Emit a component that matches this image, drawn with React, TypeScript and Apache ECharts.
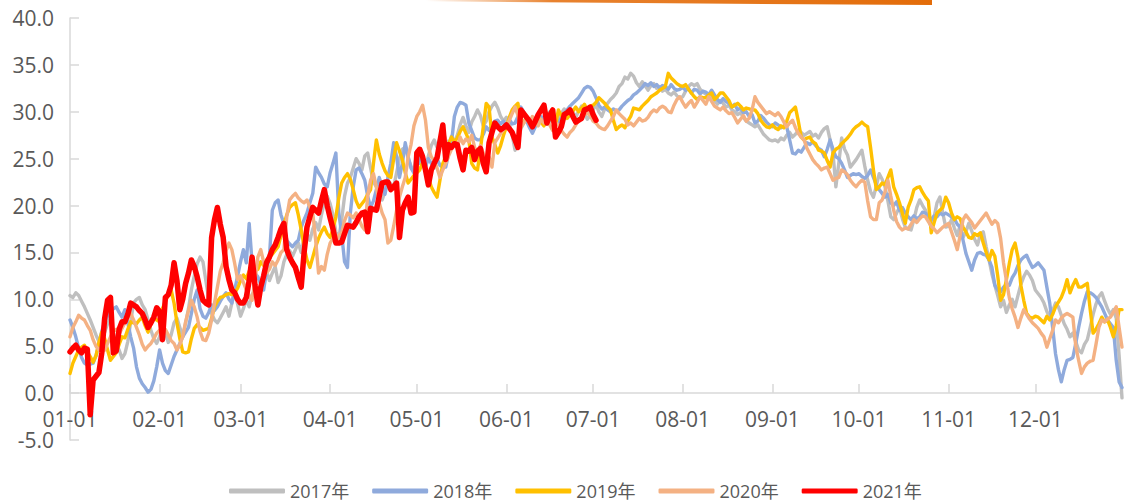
import React, { useEffect, useRef } from "react";
import * as echarts from "echarts";

// ---- categories (month-day) ----
const MONTH_DAYS = [31, 28, 31, 30, 31, 30, 31, 31, 30, 31, 30, 31];
const dayLabels: string[] = [];
MONTH_DAYS.forEach((n, m) => {
  for (let d = 1; d <= n; d++) {
    dayLabels.push(`${String(m + 1).padStart(2, "0")}-${String(d).padStart(2, "0")}`);
  }
});

const seriesNames = ["2017年", "2018年", "2019年", "2020年", "2021年"];
const seriesColors = ["#BFBFBF", "#8FAADC", "#FFC000", "#F4B183", "#FF0000"];
const seriesWidths = [3.4, 3.4, 3.4, 3.4, 5.5];
const yTicks = { min: -5, max: 40, step: 5 };

// ---- daily values ----
const t2017 = [
  // Jan
  10.4, 10.2, 10.7, 10.4, 9.8, 9.2, 8.5, 7.8, 7.0, 6.2, 5.5, 5.8, 6.5, 7.4, 8.0, 6.5, 5.2, 4.6, 3.7, 4.2, 5.5, 7.6, 9.6, 10.0, 10.2, 9.4, 8.9, 7.8, 6.7, 5.8, 5.3,
  // Feb
  6.0, 7.2, 6.5, 5.4, 6.2, 7.5, 8.0, 7.0, 6.0, 7.5, 9.0, 11.0, 12.5, 13.8, 14.5, 14.0, 12.0, 10.0, 8.5, 7.8, 7.5, 8.0, 8.6, 9.2, 8.2, 9.6, 10.7, 9.5,
  // Mar
  8.2, 9.0, 10.0, 9.2, 10.5, 11.0, 10.2, 11.3, 12.5, 13.0, 12.0, 12.8, 13.5, 11.8, 12.5, 14.0, 14.8, 15.2, 14.6, 15.3, 16.0, 15.0, 16.5, 17.0, 16.3, 17.5, 18.2, 17.4, 19.0, 20.3, 21.0,
  // Apr
  20.2, 19.0, 17.2, 16.5, 18.5, 21.0, 22.4, 23.0, 24.0, 25.0, 24.5, 23.8, 25.3, 25.6, 24.0, 22.5, 22.0, 21.2, 20.6, 21.5, 22.7, 22.3, 22.0, 23.5, 25.0, 26.0, 26.2, 25.0, 24.2, 23.5,
  // May
  24.5, 26.0, 25.5, 24.0, 25.3, 26.4, 27.0, 26.2, 27.2, 28.0, 27.0, 26.5, 27.4, 26.8, 27.5, 28.6, 29.4, 28.5, 27.8, 28.9, 29.5, 30.2, 29.6, 28.5, 29.0, 30.0, 30.6, 31.0, 30.4, 29.5, 29.0,
  // Jun
  29.4, 28.7, 27.5, 25.9, 26.5, 28.2, 28.8, 29.5, 29.0, 28.4, 29.2, 28.6, 29.4, 28.8, 29.6, 30.0, 29.2, 28.5, 29.1, 29.8, 30.3, 29.7, 30.4, 30.0, 29.4, 30.1, 30.6, 29.9, 29.2, 29.6,
  // Jul
  30.2, 30.8, 30.0, 29.5, 30.3, 30.9, 31.3, 31.6, 32.0, 32.7, 33.0, 33.7, 33.5, 34.1, 33.8, 33.1, 32.7, 33.2, 32.8, 32.3, 32.8, 33.0, 32.5, 32.7, 32.2, 32.4, 32.0, 31.8, 32.1, 31.7, 31.5,
  // Aug
  31.6, 32.2, 32.7, 33.0, 32.8, 33.0, 32.4, 32.1, 31.9, 31.5, 31.6, 31.2, 30.8, 31.2, 30.9, 30.5, 30.7, 30.2, 30.0, 29.7, 29.9, 29.4, 29.0, 28.8, 28.6, 28.4, 28.6, 28.1, 27.6, 27.3, 27.0,
  // Sep
  26.9, 27.0, 26.8, 27.2, 27.0, 27.5, 27.8, 27.3, 27.6, 28.0, 27.8, 27.5, 27.7, 27.9, 27.4, 27.6, 27.2, 27.8, 28.2, 28.4, 27.0, 25.6, 22.0, 24.5, 27.2, 26.0, 25.4, 24.1, 24.5, 24.9,
  // Oct
  25.4, 25.9, 24.2, 22.7, 21.5, 20.9, 22.1, 23.4, 22.8, 22.0, 20.5, 18.8, 18.5, 19.2, 19.8, 18.6, 17.7, 17.5, 17.4, 18.5, 19.8, 20.6, 20.0, 19.5, 18.5, 17.7, 18.8, 20.3, 20.9, 19.2, 17.7,
  // Nov
  17.8, 18.5, 17.6, 16.8, 17.9, 16.6, 17.2, 18.1, 17.3, 16.4, 15.8, 16.9, 17.2, 15.6, 14.2, 12.7, 11.5, 10.4, 9.2, 9.9, 8.6, 9.4, 10.0, 9.2, 10.4, 11.6, 12.4, 13.0, 12.6, 12.0,
  // Dec
  11.0, 10.6, 10.2, 9.6, 8.7, 8.1, 8.8, 9.6, 9.2, 8.3, 7.4, 6.8, 6.0, 6.4, 5.5, 4.6, 4.3, 5.2, 5.7, 7.0, 8.4, 9.5, 10.3, 10.7, 9.8, 9.0, 8.4, 8.9, 8.0, 4.0, -0.5,
];

const t2018 = [
  // Jan
  7.8, 7.0, 6.0, 4.8, 3.8, 3.2, 3.0, 3.1, 3.2, 4.0, 5.2, 6.6, 7.6, 8.2, 8.8, 9.0, 9.2, 8.6, 8.1, 8.9, 7.5, 6.0, 4.8, 2.8, 1.6, 1.0, 0.6, 0.1, 0.4, 1.3, 2.8,
  // Feb
  4.6, 3.2, 2.4, 2.1, 3.0, 3.9, 4.6, 5.3, 6.0, 6.5, 7.0, 8.5, 10.0, 11.0, 9.0, 8.2, 8.0, 8.6, 9.4, 8.8, 9.2, 9.8, 10.3, 10.7, 10.0, 9.6, 11.0, 12.5,
  // Mar
  14.0, 15.3, 13.9, 18.1, 13.9, 12.8, 12.4, 11.6, 11.0, 13.0, 14.5, 19.5, 20.3, 20.6, 19.0, 18.1, 16.3, 15.9, 15.6, 16.0, 16.3, 17.7, 18.5, 19.2, 20.3, 21.3, 24.1, 23.5, 23.0, 22.3, 22.0,
  // Apr
  23.5, 24.5, 25.6, 19.2, 17.0, 14.0, 13.4, 19.2, 22.0, 23.8, 24.0, 23.4, 22.7, 21.0, 19.8, 20.5, 21.7, 23.0, 22.0, 21.2, 23.0, 24.5, 26.7, 25.2, 23.0, 24.5, 26.7, 25.2, 24.0, 23.5,
  // May
  25.8, 24.5, 25.0, 24.2, 25.0, 24.5, 24.0, 25.0, 24.3, 24.1, 24.1, 25.5, 26.7, 29.5, 30.5, 31.0, 30.9, 30.7, 28.8, 28.0, 27.2, 27.0, 27.0, 27.6, 28.4, 28.0, 28.6, 29.0, 29.1, 28.7, 29.0,
  // Jun
  28.5, 29.2, 28.7, 28.8, 29.5, 30.5, 30.0, 29.0, 28.3, 27.7, 28.4, 29.0, 29.5, 29.2, 28.7, 29.0, 29.4, 29.1, 28.9, 29.3, 29.8, 30.2, 30.6, 30.9, 31.2, 31.5, 32.0, 32.5, 32.7, 32.6,
  // Jul
  32.2, 31.5, 30.7, 30.3, 30.5, 30.2, 30.0, 30.3, 30.1, 30.2, 30.6, 30.9, 31.2, 31.4, 31.8, 32.0, 32.3, 32.6, 33.0, 32.8, 33.1, 32.7, 32.9, 32.5, 32.8, 32.7, 32.4, 32.9, 32.5, 32.3, 32.4,
  // Aug
  32.6, 32.3, 32.5, 32.0, 32.4, 32.3, 31.9, 32.2, 32.1, 31.8, 32.3, 31.8, 31.3, 31.0, 31.4, 31.1, 30.9, 30.5, 30.8, 30.2, 30.4, 29.9, 30.0, 29.5, 29.7, 28.8, 29.0, 29.6, 29.3, 28.9, 28.6,
  // Sep
  28.4, 28.8, 28.6, 28.3, 28.5, 28.4, 27.0, 25.6, 25.5, 25.9, 25.7, 26.2, 26.7, 26.5, 26.8, 26.4, 26.1, 25.9, 25.2, 26.0, 27.0, 26.0, 25.2, 25.0, 24.5, 23.8, 23.0, 23.2, 23.4, 23.3,
  // Oct
  23.4, 23.1, 22.9, 23.2, 23.8, 23.0, 22.2, 21.7, 21.3, 20.9, 21.2, 20.3, 20.0, 20.4, 19.5, 19.8, 19.2, 18.8, 18.5, 18.9, 18.6, 18.8, 19.3, 19.2, 18.7, 18.5, 18.9, 18.8, 19.2, 19.0, 19.2,
  // Nov
  19.0, 18.8, 18.6, 18.0, 17.7, 16.3, 14.9, 14.0, 13.1, 14.2, 14.9, 15.0, 14.8, 14.7, 14.2, 13.4, 11.5, 11.0, 10.8, 11.3, 11.6, 11.5, 12.3, 12.8, 13.6, 14.2, 14.5, 14.7, 14.0, 13.4,
  // Dec
  13.6, 13.9, 13.5, 13.1, 11.3, 9.6, 7.0, 4.2, 2.5, 1.2, 2.5, 3.5, 3.6, 3.8, 5.3, 7.0, 8.5, 9.8, 10.8, 10.7, 10.5, 10.2, 9.7, 9.2, 8.5, 7.8, 7.4, 7.0, 3.5, 1.2, 0.6,
];

const t2019 = [
  // Jan
  2.1, 3.2, 3.9, 4.6, 4.9, 5.1, 4.4, 3.9, 3.3, 4.0, 5.4, 6.5, 5.8, 4.6, 3.5, 3.9, 4.3, 5.2, 6.0, 5.9, 6.8, 7.6, 7.5, 7.4, 7.8, 8.1, 7.2, 6.5, 7.4, 8.1, 7.8,
  // Feb
  7.6, 9.0, 9.8, 10.4, 11.0, 9.6, 7.5, 5.8, 4.4, 4.3, 4.4, 5.8, 6.9, 7.3, 7.0, 6.7, 6.8, 6.9, 8.0, 9.2, 9.8, 10.2, 10.3, 10.5, 10.6, 10.5, 10.7, 11.2,
  // Mar
  12.0, 12.6, 12.2, 13.0, 12.7, 13.5, 13.2, 14.0, 13.6, 14.2, 14.5, 14.8, 15.2, 15.6, 16.8, 18.0, 19.0, 19.8, 20.1, 20.3, 19.0, 17.4, 15.6, 14.2, 13.4, 14.5, 15.6, 16.5, 17.2, 17.7, 17.0,
  // Apr
  16.6, 17.5, 18.8, 20.8, 22.4, 23.0, 23.4, 22.8, 21.7, 20.5, 19.8, 20.2, 20.6, 21.2, 21.7, 24.5, 27.0, 25.5, 24.5, 23.7, 23.2, 23.0, 25.0, 26.7, 25.8, 24.9, 23.5, 22.4, 22.8, 23.2,
  // May
  23.5, 23.8, 24.6, 24.1, 23.0, 22.0, 21.4, 20.9, 22.7, 24.5, 25.2, 26.6, 27.3, 26.8, 27.2, 27.9, 28.4, 27.7, 27.0, 24.5, 24.0, 23.8, 26.0, 28.4, 30.9, 30.5, 27.3, 26.5, 25.6, 26.4, 27.5,
  // Jun
  28.4, 29.4, 30.2, 30.6, 30.9, 28.4, 28.9, 29.4, 28.8, 28.4, 29.0, 29.5, 28.9, 28.5, 29.2, 29.5, 29.0, 28.6, 30.2, 29.6, 29.8, 29.3, 29.7, 30.1, 30.5, 30.0, 30.4, 30.8, 30.2, 30.6,
  // Jul
  30.7, 31.0, 31.5, 31.2, 30.9, 30.5, 30.2, 29.1, 28.1, 28.4, 28.6, 28.3, 29.0, 29.5, 30.4, 30.3, 30.2, 30.6, 30.9, 31.2, 31.6, 31.8, 32.0, 32.3, 32.5, 32.7, 34.1, 33.6, 33.3, 33.0, 32.8,
  // Aug
  32.7, 32.9, 32.4, 32.0, 31.6, 31.3, 31.6, 31.5, 31.5, 31.8, 32.0, 31.3, 31.6, 32.0, 32.0, 31.6, 31.2, 30.5, 30.7, 30.9, 30.6, 30.2, 30.4, 30.3, 30.2, 30.2, 29.8, 29.1, 28.7, 28.4, 28.3,
  // Sep
  28.6, 28.3, 28.1, 28.5, 28.3, 29.0, 29.9, 30.2, 30.5, 29.0, 27.3, 27.0, 27.2, 27.3, 26.8, 26.6, 25.9, 25.8, 25.6, 24.8, 24.1, 25.6, 26.0, 26.2, 26.6, 26.9, 27.2, 27.6, 28.1, 28.4,
  // Oct
  28.6, 28.9, 28.6, 28.4, 26.2, 23.8, 21.7, 22.0, 22.4, 22.2, 23.0, 23.8, 22.0, 21.2, 20.3, 19.2, 18.1, 19.8, 20.6, 21.7, 21.9, 22.0, 21.4, 20.9, 20.5, 17.1, 18.2, 19.2, 19.5, 19.8, 20.9,
  // Nov
  20.3, 19.2, 18.5, 18.8, 18.6, 17.7, 17.2, 16.6, 16.5, 17.0, 16.8, 17.1, 16.0, 15.0, 14.2, 15.2, 14.6, 12.5, 9.9, 10.5, 12.1, 13.8, 15.3, 16.0, 14.5, 11.5, 9.9, 8.5, 8.1, 8.0,
  // Dec
  8.2, 8.1, 7.8, 7.5, 8.2, 7.8, 8.4, 9.2, 9.7, 10.2, 11.0, 12.1, 10.7, 11.5, 12.1, 11.3, 11.3, 11.5, 11.7, 8.9, 6.4, 6.8, 7.4, 8.1, 7.6, 7.8, 7.0, 6.0, 7.2, 8.9, 8.9,
];

const t2020 = [
  // Jan
  6.0, 7.0, 7.6, 8.3, 8.0, 7.8, 7.2, 6.7, 5.7, 5.0, 4.6, 4.4, 4.6, 5.3, 6.0, 6.6, 6.8, 6.3, 6.9, 7.5, 8.0, 8.5, 7.8, 7.0, 6.2, 5.2, 4.6, 5.0, 5.3, 5.8, 6.4,
  // Feb
  6.7, 7.0, 6.8, 6.2, 5.6, 5.3, 4.6, 5.2, 6.0, 7.6, 8.8, 9.9, 9.2, 8.1, 6.6, 5.7, 5.6, 6.4, 7.8, 9.6, 11.3, 13.0, 13.9, 15.2, 16.0, 15.3, 13.8, 12.1,
  // Mar
  12.5, 11.8, 11.0, 10.4, 9.9, 12.0, 14.5, 15.3, 14.0, 12.8, 13.2, 14.0, 13.6, 14.2, 15.0, 15.3, 18.8, 20.6, 21.0, 21.3, 20.8, 20.5, 20.3, 20.6, 19.8, 19.2, 16.3, 12.8, 13.5, 13.1, 14.8,
  // Apr
  16.0, 16.5, 16.2, 16.8, 17.1, 18.4, 19.2, 19.0, 18.7, 19.2, 18.5, 17.8, 17.4, 21.0, 22.7, 23.4, 22.0, 20.3, 19.2, 18.5, 16.0, 16.3, 17.8, 19.5, 20.9, 22.0, 23.0, 25.2, 26.5, 28.5,
  // May
  29.5, 30.0, 30.7, 29.1, 26.2, 25.2, 24.8, 24.0, 23.0, 23.8, 24.5, 25.3, 26.0, 26.7, 26.2, 27.3, 26.6, 27.1, 26.8, 27.5, 26.2, 25.5, 26.4, 25.6, 24.8, 25.2, 24.1, 26.7, 27.2, 27.7, 28.1,
  // Jun
  28.4, 29.1, 29.8, 30.5, 29.6, 28.4, 28.8, 29.3, 28.7, 29.5, 29.0, 28.5, 29.2, 28.8, 29.3, 28.6, 28.0, 28.8, 28.6, 28.0, 27.6, 27.3, 27.8, 28.1, 28.6, 29.1, 29.4, 29.7, 29.9, 29.6,
  // Jul
  29.0, 28.8, 28.4, 28.2, 28.1, 28.5, 29.0, 29.5, 30.2, 29.8, 29.5, 29.2, 28.6, 28.8, 28.5, 28.9, 29.3, 29.0, 29.1, 29.4, 29.9, 30.2, 30.0, 30.4, 30.6, 30.4, 30.0, 29.9, 30.7, 31.3, 31.6,
  // Aug
  31.0, 30.5, 30.9, 31.2, 30.5, 31.0, 31.6, 31.2, 30.8, 31.6, 31.1, 30.6, 30.4, 30.2, 30.5, 30.1, 29.8, 29.9, 29.4, 28.8, 29.2, 29.6, 29.0, 29.3, 30.2, 31.6, 31.0, 30.6, 30.2, 29.8, 30.0,
  // Sep
  29.8, 29.6, 29.9, 29.5, 28.9, 28.4, 28.8, 29.1, 28.3, 27.7, 27.3, 27.0, 26.1, 25.5, 24.9, 24.5, 24.2, 23.8, 24.0, 24.1, 23.4, 22.7, 22.9, 23.0, 23.8, 23.6, 23.3, 22.7, 22.3, 22.0,
  // Oct
  22.4, 22.7, 22.5, 20.5, 18.8, 18.5, 18.5, 20.3, 20.6, 21.5, 22.7, 21.0, 19.5, 18.3, 17.7, 17.4, 17.6, 17.5, 18.0, 18.5, 18.2, 18.6, 18.9, 18.8, 18.3, 17.8, 17.5, 17.1, 17.4, 17.7, 17.9,
  // Nov
  18.1, 17.2, 16.3, 15.3, 16.8, 18.5, 19.0, 18.6, 18.2, 17.6, 18.0, 18.4, 18.8, 19.2, 18.6, 18.0, 18.4, 18.1, 16.5, 13.9, 12.0, 10.2, 9.0, 8.1, 7.0, 8.0, 8.9, 8.4, 7.9, 7.5,
  // Dec
  7.2, 6.9, 6.4, 6.0, 4.9, 5.8, 6.7, 7.8, 7.5, 8.0, 8.3, 8.5, 8.3, 8.1, 5.0, 3.5, 2.1, 2.8, 3.2, 3.4, 3.5, 5.2, 7.0, 7.8, 7.6, 7.9, 8.1, 8.6, 9.2, 7.0, 4.9,
];

const t2021 = [
  // Jan
  4.4, 4.8, 5.1, 4.6, 4.3, 4.8, 4.7, -2.3, 1.4, 1.8, 2.2, 4.3, 8.0, 9.9, 10.2, 4.3, 4.5, 6.8, 7.6, 7.6, 8.4, 9.6, 9.4, 9.2, 8.8, 8.5, 7.8, 7.0, 7.5, 8.1, 9.1,
  // Feb
  8.7, 5.7, 10.2, 10.5, 11.5, 13.9, 12.0, 8.9, 10.0, 11.7, 12.8, 14.2, 13.5, 12.4, 11.0, 9.9, 9.6, 9.4, 16.6, 18.5, 19.8, 18.0, 16.6, 13.5, 12.1, 11.0, 10.7, 10.0,
  // Mar
  9.6, 9.6, 10.2, 12.0, 14.5, 11.5, 9.4, 11.3, 12.5, 13.9, 14.5, 15.3, 15.8, 16.6, 17.5, 18.1, 15.3, 14.5, 13.9, 13.4, 12.3, 11.3, 15.0, 17.7, 18.8, 19.8, 19.5, 19.2, 20.5, 21.7, 20.0,
  // Apr
  18.7, 17.5, 16.0, 16.0, 16.1, 17.0, 17.9, 17.8, 17.7, 18.2, 18.8, 19.2, 19.3, 17.2, 19.7, 19.6, 19.5, 21.0, 22.4, 22.5, 22.5, 21.7, 22.0, 22.4, 16.6, 19.5, 20.3, 20.9, 19.2, 19.3,
  // May
  25.6, 26.0, 25.2, 23.8, 22.2, 23.8, 24.5, 25.1, 26.8, 28.6, 24.9, 26.5, 26.2, 26.6, 26.5, 25.0, 23.8, 25.9, 25.8, 26.2, 24.9, 25.8, 26.1, 24.5, 23.6, 26.7, 27.8, 28.8, 28.4, 28.1, 28.3,
  // Jun
  28.6, 28.2, 27.8, 27.0, 26.2, 30.2, 29.8, 29.4, 29.0, 28.4, 29.0, 29.7, 30.2, 30.7, 28.8, 29.6, 30.2, 27.3, 27.8, 28.4, 29.7, 29.9, 30.2, 29.5, 28.9, 29.1, 29.3, 30.2, 30.3, 30.5,
  // Jul
  29.7, 29.1,
];

const allSeries = [t2017, t2018, t2019, t2020, t2021];

const FONT = "'Open Sans', 'Noto Sans CJK SC', sans-serif";
const isMonthStart = (_i: number, v: string) => v.endsWith("-01");

export default function App() {
  const ref = useRef<HTMLDivElement>(null);

  useEffect(() => {
    document.body.style.margin = "0";
    if (!ref.current) return;
    const chart = echarts.init(ref.current, undefined, { renderer: "svg" });
    chart.setOption({
      animation: false,
      backgroundColor: "#ffffff",
      grid: { left: 70, right: 3, top: 18, bottom: 63, containLabel: false },
      legend: {
        data: seriesNames,
        left: 224,
        top: 477,
        icon: "roundRect",
        itemWidth: 56,
        itemHeight: 5,
        itemGap: 23,
        textStyle: { color: "#595959", fontSize: 18, fontFamily: FONT },
      },
      xAxis: {
        type: "category",
        data: dayLabels,
        boundaryGap: false,
        position: "bottom",
        offset: -47,
        axisLine: { onZero: true, onZeroAxisIndex: 0, lineStyle: { color: "#D9D9D9", width: 1.5 } },
        axisTick: {
          show: true,
          inside: true,
          length: 9,
          interval: isMonthStart,
          lineStyle: { color: "#D9D9D9", width: 1.5 },
        },
        axisLabel: {
          interval: isMonthStart,
          color: "#595959",
          fontSize: 21,
          fontFamily: FONT,
          margin: 15,
        },
        splitLine: { show: false },
      },
      yAxis: {
        type: "value",
        min: yTicks.min,
        max: yTicks.max,
        interval: yTicks.step,
        axisLine: { show: true, onZero: false, lineStyle: { color: "#D9D9D9", width: 1.5 } },
        axisTick: { show: true, inside: true, length: 9, lineStyle: { color: "#D9D9D9", width: 1.5 } },
        axisLabel: {
          color: "#595959",
          fontSize: 21,
          fontFamily: FONT,
          margin: 16,
          formatter: (v: number) => v.toFixed(1),
        },
        splitLine: { show: false },
      },
      graphic: [
        {
          type: "polygon",
          silent: true,
          shape: { points: [[426, 0], [932, 0], [932, 5], [700, 3.5], [426, 1.2]] },
          style: {
            fill: new echarts.graphic.LinearGradient(0, 0, 1, 0, [
              { offset: 0, color: "rgba(228,108,10,0)" },
              { offset: 0.25, color: "rgba(228,108,10,0.85)" },
              { offset: 1, color: "#E36C09" },
            ]),
          },
        },
      ],
      series: allSeries.map((d, i) => ({
        name: seriesNames[i],
        type: "line",
        data: d,
        showSymbol: false,
        symbol: "none",
        smooth: false,
        lineStyle: { color: seriesColors[i], width: seriesWidths[i], cap: "round", join: "round" },
        itemStyle: { color: seriesColors[i] },
        z: 2 + i,
      })),
    });
    return () => chart.dispose();
  }, []);

  return <div ref={ref} style={{ width: 1125, height: 503 }} />;
}
